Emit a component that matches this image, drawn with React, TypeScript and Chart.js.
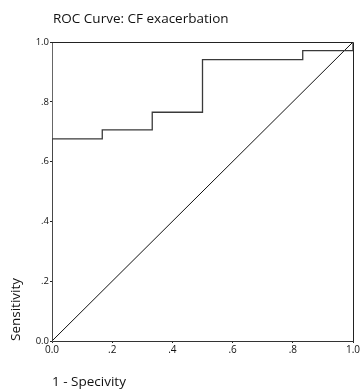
import React, { useEffect, useRef } from "react";
import { Chart, registerables } from "chart.js";

Chart.register(...registerables);

const chartTitle = "ROC Curve: CF exacerbation";
const xAxisTitle = "1 - Specivity";
const yAxisTitle = "Sensitivity";

// ROC step curve (1 - specificity, sensitivity)
const rocFpr = [0, 0, 0.167, 0.333, 0.5, 0.833, 1.0];
const rocTpr = [0, 0.676, 0.706, 0.765, 0.941, 0.971, 1.0];

// reference diagonal
const refX = [0, 1];
const refY = [0, 1];

const tickValues = [0, 0.2, 0.4, 0.6, 0.8, 1.0];
const tickLabels = ["0.0", ".2", ".4", ".6", ".8", "1.0"];

const FONT = "'Open Sans', 'DejaVu Sans', sans-serif";

function fmt(v: number) {
  const i = tickValues.findIndex((t) => Math.abs(t - v) < 1e-6);
  return i >= 0 ? tickLabels[i] : "";
}

const framePlugin = {
  id: "frameAndTitle",
  afterDraw(chart: any) {
    const { ctx, chartArea } = chart;
    ctx.save();
    ctx.strokeStyle = "#222";
    ctx.lineWidth = 1;
    ctx.beginPath();
    ctx.moveTo(chartArea.left, chartArea.top + 0.5);
    ctx.lineTo(chartArea.right + 0.5, chartArea.top + 0.5);
    ctx.lineTo(chartArea.right + 0.5, chartArea.bottom);
    ctx.stroke();
    ctx.fillStyle = "#111";
    ctx.font = `13.5px ${FONT}`;
    ctx.textBaseline = "middle";
    ctx.textAlign = "left";
    ctx.fillText(chartTitle, chartArea.left + 1, 19);
    ctx.restore();
  },
};

export default function App() {
  const ref = useRef<HTMLCanvasElement | null>(null);
  useEffect(() => {
    document.body.style.margin = "0";
    const canvas = ref.current!;
    const chart = new Chart(canvas, {
      type: "scatter",
      data: {
        datasets: [
          {
            data: rocFpr.map((x, i) => ({ x, y: rocTpr[i] })),
            showLine: true,
            stepped: "before",
            borderColor: "#3a3a3a",
            borderWidth: 1.3,
            pointRadius: 0,
            fill: false,
          },
          {
            data: refX.map((x, i) => ({ x, y: refY[i] })),
            showLine: true,
            borderColor: "#111",
            borderWidth: 1,
            pointRadius: 0,
            fill: false,
          },
        ],
      },
      options: {
        animation: false,
        responsive: false,
        maintainAspectRatio: false,
        layout: { padding: { top: 42, right: 11, left: 0, bottom: 0 } },
        plugins: {
          legend: { display: false },
          tooltip: { enabled: false },
          title: { display: false },
        },
        scales: {
          x: {
            type: "linear",
            min: 0,
            max: 1,
            afterBuildTicks: (s: any) => {
              s.ticks = tickValues.map((v) => ({ value: v }));
            },
            afterFit: (s: any) => {
              s.height = 49;
            },
            ticks: {
              callback: (v: any) => fmt(Number(v)),
              color: "#111",
              font: { family: FONT, size: 10 },
              padding: 1,
              maxRotation: 0,
              autoSkip: false,
            },
            grid: {
              display: true,
              drawOnChartArea: false,
              drawTicks: true,
              tickLength: 2,
              color: "#222",
            },
            border: { display: true, color: "#333", width: 1 },
            title: {
              display: true,
              text: xAxisTitle,
              align: "start",
              color: "#111",
              font: { family: FONT, size: 13.5 },
              padding: { top: 9, bottom: 0 },
            },
          },
          y: {
            type: "linear",
            min: 0,
            max: 1,
            afterBuildTicks: (s: any) => {
              s.ticks = tickValues.map((v) => ({ value: v }));
            },
            afterFit: (s: any) => {
              s.width = 52;
            },
            ticks: {
              callback: (v: any) => fmt(Number(v)),
              color: "#111",
              font: { family: FONT, size: 9.5 },
              padding: 1,
              autoSkip: false,
            },
            grid: {
              display: true,
              drawOnChartArea: false,
              drawTicks: true,
              tickLength: 2,
              color: "#222",
            },
            border: { display: true, color: "#666", width: 1 },
            title: {
              display: true,
              text: yAxisTitle,
              align: "start",
              color: "#111",
              font: { family: FONT, size: 13.5 },
              padding: { top: 8, bottom: 0 },
            },
          },
        },
      } as any,
      plugins: [framePlugin],
    });
    return () => chart.destroy();
  }, []);
  return (
    <div style={{ width: 364, height: 390 }}>
      <canvas ref={ref} width={364} height={390} style={{ display: "block" }} />
    </div>
  );
}
